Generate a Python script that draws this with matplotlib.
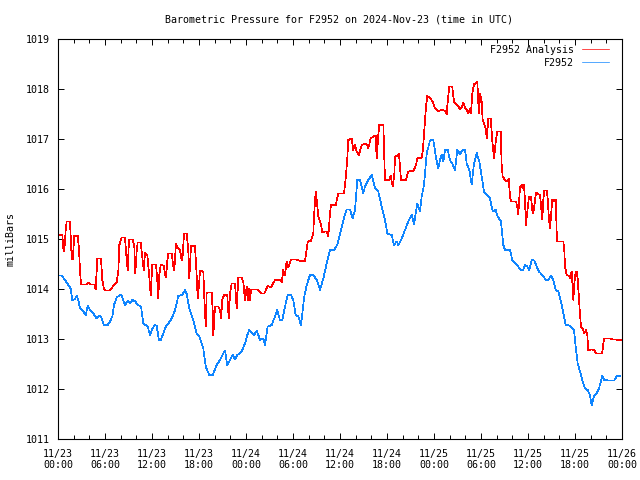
import matplotlib
matplotlib.use("Agg")
import matplotlib.pyplot as plt
from matplotlib.ticker import MultipleLocator

# hours since 2024-11-23 00:00 UTC, pressure in millibars
obs_hours = [0.04, 0.47, 0.89, 1.31, 1.62, 1.83, 2.17, 2.39, 2.59, 2.81, 3.23, 3.54, 3.79, 4.09,
             4.51, 4.94, 5.36, 5.58, 5.87, 6.34, 6.64, 6.93, 7.15, 7.49, 7.91, 8.13, 8.55, 8.90,
             9.19, 9.48, 9.83, 10.17, 10.60, 10.89, 11.45, 11.74, 12.04, 12.38, 12.60, 12.89,
             13.11, 13.44, 13.79, 14.08, 14.51, 14.94, 15.36, 15.87, 16.21, 16.43, 16.76, 17.27,
             17.71, 18.04, 18.55, 18.86, 19.31, 19.75, 20.26, 20.68, 21.10, 21.32, 21.61, 21.96,
             22.30, 22.60, 22.89, 23.45, 23.87, 24.17, 24.42, 24.73, 25.06, 25.37, 25.79, 26.21,
             26.43, 26.77, 27.28, 27.70, 28.00, 28.34, 28.63, 28.98, 29.32, 29.74, 30.04, 30.34,
             30.68, 31.02, 31.44, 31.75, 32.17, 32.59, 33.03, 33.45, 33.87, 34.30, 34.72, 35.27,
             35.71, 36.13, 36.55, 36.86, 37.28, 37.62, 37.91, 38.21, 38.55, 38.97, 39.19, 39.61,
             40.05, 40.47, 40.89, 41.32, 41.74, 42.04, 42.60, 42.89, 43.24, 43.45, 43.88, 44.30,
             44.72, 45.16, 45.45, 45.87, 46.21, 46.43, 46.72, 47.07, 47.49, 47.91, 48.25, 48.55,
             48.77, 48.98, 49.19, 49.40, 49.75, 50.04, 50.39, 50.68, 50.98, 51.32, 51.61, 51.96,
             52.17, 52.51, 52.81, 53.11, 53.45, 53.78, 54.09, 54.38, 54.80, 55.15, 55.49, 55.88,
             56.13, 56.55, 56.85, 57.06, 57.70, 58.00, 58.47, 59.07, 59.40, 59.61, 59.91, 60.17,
             60.47, 60.80, 61.11, 61.40, 61.66, 61.95, 62.26, 62.59, 62.93, 63.23, 63.54, 63.87,
             64.21, 64.51, 64.81, 65.36, 65.87, 66.09, 66.34, 66.64, 66.93, 67.28, 67.62, 67.91,
             68.13, 68.42, 68.77, 69.06, 69.48, 69.74, 70.25, 71.02, 71.32, 71.74]
obs_mbar = [1014.27, 1014.27, 1014.18, 1014.08, 1014.01, 1013.78, 1013.80, 1013.87, 1013.78, 1013.61,
            1013.55, 1013.48, 1013.66, 1013.58, 1013.51, 1013.41, 1013.47, 1013.41, 1013.28, 1013.28,
            1013.35, 1013.45, 1013.68, 1013.83, 1013.88, 1013.87, 1013.68, 1013.76, 1013.71, 1013.78,
            1013.76, 1013.68, 1013.65, 1013.31, 1013.25, 1013.08, 1013.21, 1013.28, 1013.26, 1012.98,
            1012.98, 1013.11, 1013.26, 1013.31, 1013.41, 1013.58, 1013.86, 1013.88, 1013.98, 1013.90,
            1013.61, 1013.38, 1013.11, 1013.05, 1012.81, 1012.45, 1012.28, 1012.28, 1012.48, 1012.58,
            1012.71, 1012.77, 1012.48, 1012.58, 1012.68, 1012.59, 1012.68, 1012.75, 1012.91, 1013.08,
            1013.18, 1013.13, 1013.08, 1013.17, 1012.98, 1013.01, 1012.88, 1013.25, 1013.28, 1013.45,
            1013.58, 1013.37, 1013.38, 1013.65, 1013.88, 1013.88, 1013.78, 1013.48, 1013.45, 1013.28,
            1013.85, 1014.08, 1014.28, 1014.28, 1014.18, 1013.98, 1014.21, 1014.51, 1014.78, 1014.78,
            1014.91, 1015.18, 1015.45, 1015.59, 1015.59, 1015.41, 1015.58, 1016.18, 1016.18, 1015.91,
            1016.05, 1016.18, 1016.28, 1016.01, 1015.95, 1015.65, 1015.38, 1015.11, 1015.08, 1014.88,
            1014.95, 1014.88, 1015.01, 1015.18, 1015.35, 1015.49, 1015.30, 1015.71, 1015.55, 1015.85,
            1016.08, 1016.71, 1016.97, 1016.98, 1016.63, 1016.41, 1016.58, 1016.68, 1016.55, 1016.78,
            1016.78, 1016.58, 1016.49, 1016.38, 1016.78, 1016.70, 1016.77, 1016.79, 1016.51, 1016.38,
            1016.09, 1016.51, 1016.72, 1016.55, 1016.25, 1015.95, 1015.88, 1015.81, 1015.55, 1015.58,
            1015.45, 1015.35, 1014.88, 1014.78, 1014.78, 1014.58, 1014.51, 1014.38, 1014.38, 1014.48,
            1014.45, 1014.38, 1014.58, 1014.57, 1014.45, 1014.35, 1014.31, 1014.26, 1014.18, 1014.18,
            1014.27, 1014.18, 1013.98, 1013.95, 1013.75, 1013.51, 1013.28, 1013.27, 1013.18, 1012.85,
            1012.51, 1012.35, 1012.18, 1012.01, 1011.98, 1011.88, 1011.68, 1011.85, 1011.91, 1012.01,
            1012.26, 1012.18, 1012.17, 1012.17, 1012.26, 1012.26]

ana_hours = [0.04, 0.55, 0.68, 0.80, 0.98, 1.11, 1.53, 1.75, 1.88, 2.08, 2.51, 2.68, 2.81, 2.94,
             3.66, 3.87, 4.09, 4.63, 4.81, 5.02, 5.49, 5.66, 5.87, 6.09, 6.64, 7.06, 7.49, 7.70,
             7.83, 8.13, 8.55, 8.77, 8.90, 9.06, 9.54, 9.74, 9.87, 10.05, 10.17, 10.56, 10.76,
             10.94, 11.11, 11.40, 11.62, 11.83, 12.04, 12.51, 12.68, 12.80, 12.93, 13.11, 13.53,
             13.66, 13.79, 13.95, 14.08, 14.51, 14.72, 14.85, 15.06, 15.36, 15.57, 15.79, 15.92,
             16.09, 16.43, 16.63, 16.76, 16.98, 17.49, 17.71, 17.83, 18.00, 18.13, 18.55, 18.68,
             18.86, 18.98, 19.62, 19.75, 19.83, 20.04, 20.46, 20.68, 20.81, 20.97, 21.19, 21.61,
             21.79, 21.96, 22.17, 22.60, 22.81, 23.02, 23.45, 23.66, 23.87, 24.09, 24.22, 24.38,
             24.51, 24.64, 24.80, 25.49, 26.00, 26.34, 26.77, 27.19, 27.70, 28.34, 28.56, 28.76,
             28.98, 29.19, 29.40, 29.74, 30.47, 30.89, 31.53, 31.88, 32.26, 32.59, 32.68, 32.90,
             33.03, 33.23, 33.58, 33.75, 34.00, 34.30, 34.51, 34.72, 34.85, 35.45, 35.78, 36.51,
             36.77, 36.93, 37.06, 37.49, 37.69, 37.91, 38.13, 38.42, 38.77, 39.19, 39.48, 39.61,
             39.92, 40.25, 40.56, 40.68, 40.89, 41.02, 41.53, 41.74, 42.29, 42.47, 42.60, 42.72,
             42.93, 43.02, 43.31, 43.53, 43.66, 43.79, 44.42, 44.59, 44.72, 45.36, 45.70, 45.87,
             46.43, 46.56, 46.72, 46.98, 47.14, 47.49, 47.83, 48.13, 48.55, 48.98, 49.40, 49.62,
             49.75, 49.95, 50.33, 50.55, 50.77, 51.10, 51.32, 51.53, 51.74, 51.96, 52.17, 52.38,
             52.60, 52.72, 52.89, 53.11, 53.36, 53.53, 53.66, 53.78, 53.87, 54.09, 54.21, 54.38,
             54.60, 54.73, 54.81, 54.94, 55.24, 55.45, 55.66, 55.88, 56.08, 56.51, 56.64, 56.77,
             57.06, 57.36, 57.54, 57.70, 57.83, 58.47, 58.63, 58.76, 58.98, 59.19, 59.32, 59.49,
             59.61, 59.74, 59.91, 60.13, 60.38, 60.55, 60.68, 60.89, 61.02, 61.31, 61.53, 61.75,
             61.83, 61.95, 62.08, 62.39, 62.51, 62.68, 62.81, 62.93, 63.10, 63.23, 63.36, 63.54,
             63.66, 63.74, 64.51, 64.64, 64.73, 64.94, 65.24, 65.36, 65.58, 65.79, 65.91, 66.09,
             66.22, 66.34, 66.51, 66.64, 66.77, 66.98, 67.19, 67.40, 67.57, 67.70, 68.13, 68.47,
             68.68, 69.41, 69.53, 69.70, 70.47, 70.89, 72.00]
ana_mbar = [1015.08, 1015.08, 1014.81, 1014.75, 1015.18, 1015.35, 1015.35, 1014.61, 1014.59, 1015.06,
            1015.06, 1014.81, 1014.35, 1014.09, 1014.09, 1014.13, 1014.09, 1014.09, 1013.99, 1014.61,
            1014.61, 1014.18, 1013.99, 1013.97, 1013.97, 1014.06, 1014.13, 1014.35, 1014.88, 1015.03,
            1015.03, 1014.58, 1014.38, 1014.99, 1014.99, 1014.85, 1014.31, 1014.78, 1014.93, 1014.93,
            1014.65, 1014.38, 1014.73, 1014.68, 1014.31, 1013.88, 1014.49, 1014.49, 1014.15, 1013.81,
            1014.28, 1014.49, 1014.46, 1014.28, 1014.23, 1014.55, 1014.71, 1014.71, 1014.45, 1014.38,
            1014.90, 1014.81, 1014.78, 1014.58, 1014.68, 1015.11, 1015.11, 1014.78, 1014.21, 1014.86,
            1014.86, 1014.25, 1013.81, 1014.08, 1014.37, 1014.35, 1013.81, 1013.25, 1013.93, 1013.93,
            1013.55, 1013.08, 1013.65, 1013.65, 1013.58, 1013.41, 1013.78, 1013.88, 1013.88, 1013.41,
            1013.90, 1014.11, 1014.11, 1013.61, 1014.23, 1014.23, 1014.13, 1013.78, 1014.05, 1013.78,
            1014.01, 1013.78, 1013.98, 1013.99, 1013.99, 1013.91, 1013.91, 1014.06, 1014.03, 1014.18,
            1014.19, 1014.13, 1014.38, 1014.28, 1014.55, 1014.43, 1014.59, 1014.59, 1014.56, 1014.56,
            1014.95, 1014.96, 1015.11, 1015.45, 1015.95, 1015.78, 1015.45, 1015.28, 1015.13, 1015.15,
            1015.15, 1015.06, 1015.51, 1015.68, 1015.68, 1015.91, 1015.91, 1016.28, 1016.61, 1016.98,
            1017.01, 1016.78, 1016.88, 1016.75, 1016.68, 1016.88, 1016.91, 1016.88, 1016.81, 1017.01,
            1017.05, 1017.06, 1016.61, 1017.08, 1017.28, 1017.29, 1016.18, 1016.18, 1016.26, 1016.15,
            1016.05, 1016.28, 1016.65, 1016.66, 1016.71, 1016.45, 1016.18, 1016.18, 1016.28, 1016.35,
            1016.36, 1016.48, 1016.61, 1016.63, 1016.75, 1017.08, 1017.65, 1017.86, 1017.82, 1017.75,
            1017.61, 1017.56, 1017.58, 1017.57, 1017.50, 1017.75, 1018.05, 1018.05, 1017.75, 1017.70,
            1017.66, 1017.59, 1017.63, 1017.73, 1017.63, 1017.58, 1017.51, 1017.60, 1017.51, 1017.91,
            1018.10, 1018.11, 1018.15, 1017.71, 1017.51, 1017.91, 1017.75, 1017.38, 1017.31, 1017.21,
            1017.01, 1017.15, 1017.41, 1017.41, 1016.95, 1016.61, 1016.95, 1017.15, 1017.15, 1016.48,
            1016.25, 1016.18, 1016.15, 1016.21, 1015.85, 1015.75, 1015.75, 1015.65, 1015.50, 1016.05,
            1016.08, 1016.01, 1016.08, 1015.78, 1015.28, 1015.55, 1015.85, 1015.85, 1015.58, 1015.51,
            1015.78, 1015.93, 1015.90, 1015.88, 1015.51, 1015.39, 1015.78, 1015.97, 1015.97, 1015.81,
            1015.38, 1015.21, 1015.45, 1015.78, 1015.75, 1015.78, 1015.79, 1015.15, 1014.95, 1014.95,
            1014.75, 1014.45, 1014.28, 1014.26, 1014.21, 1014.35, 1013.78, 1014.11, 1014.35, 1014.35,
            1014.21, 1013.81, 1013.48, 1013.25, 1013.21, 1013.11, 1013.18, 1013.08, 1012.78, 1012.79,
            1012.78, 1012.71, 1012.71, 1012.78, 1013.01, 1013.01, 1012.99, 1012.98]

tick_hours = list(range(0, 73, 6))
tick_labels = ["11/23\n00:00", "11/23\n06:00", "11/23\n12:00", "11/23\n18:00",
               "11/24\n00:00", "11/24\n06:00", "11/24\n12:00", "11/24\n18:00",
               "11/25\n00:00", "11/25\n06:00", "11/25\n12:00", "11/25\n18:00",
               "11/26\n00:00"]
ytick_vals = list(range(1011, 1020))

plt.rcParams["font.family"] = "DejaVu Sans Mono"
plt.rcParams["font.size"] = 7.2

fig = plt.figure(figsize=(6.4, 4.8), dpi=100)
ax = fig.add_axes([58 / 640, 1 - 439 / 480, 564 / 640, 400 / 480])

# gnuplot-style crisp, one-pixel lines
ax.plot(ana_hours, ana_mbar, color="#ff0000", linewidth=0.5, antialiased=False,
        label="F2952 Analysis")
ax.plot(obs_hours, obs_mbar, color="#0f85ff", linewidth=0.5, antialiased=False,
        label="F2952")

ax.set_xlim(0, 72)
ax.set_ylim(1011, 1019)
ax.set_xticks(tick_hours)
ax.set_xticklabels(tick_labels)
ax.xaxis.set_minor_locator(MultipleLocator(2))
ax.set_yticks(ytick_vals)
ax.set_yticklabels([str(v) for v in ytick_vals])

ax.tick_params(which="both", direction="in", top=True, right=True, width=0.7)
ax.tick_params(which="major", length=4)
ax.tick_params(which="minor", length=3)
ax.tick_params(axis="x", pad=7)
ax.tick_params(axis="y", pad=6)
for s in ax.spines.values():
    s.set_linewidth(0.8)

ax.set_ylabel("milliBars")
ax.yaxis.set_label_coords(-0.075, 0.5)

fig.text(339 / 640, 1 - 20 / 480, "Barometric Pressure for F2952 on 2024-Nov-23 (time in UTC)",
         ha="center", va="center")

ax.legend(loc="upper right", bbox_to_anchor=(1 - 9 / 564, 1 - 2 / 400), borderaxespad=0,
          frameon=False, markerfirst=False, handlelength=2.7, handletextpad=0.8,
          labelspacing=0.3, borderpad=0.4)

fig.savefig("out.png", dpi=100)
